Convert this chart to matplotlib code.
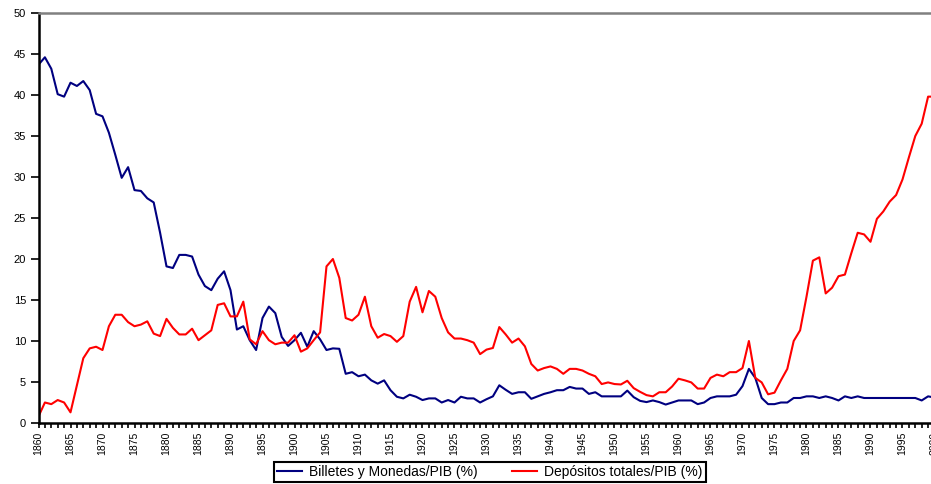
import matplotlib.pyplot as plt

plt.rcParams["font.family"] = ["Liberation Sans", "DejaVu Sans"]

# --- Data (% del PIB), 1860-2000 ---
years = list(range(1860, 2001))

billetes_monedas = [
    43.7, 44.6, 43.2, 40.1, 39.8, 41.5, 41.1, 41.7, 40.6, 37.7,   # 1860s
    37.4, 35.4, 32.7, 29.9, 31.2, 28.4, 28.3, 27.4, 26.9, 23.2,   # 1870s
    19.1, 18.9, 20.5, 20.5, 20.3, 18.1, 16.7, 16.2, 17.6, 18.5,   # 1880s
    16.2, 11.4, 11.8, 10.1, 8.9, 12.8, 14.2, 13.4, 10.5, 9.4,     # 1890s
    10.1, 11.0, 9.3, 11.2, 10.2, 8.9, 9.1, 9.05, 6.0, 6.2,        # 1900s
    5.7, 5.9, 5.2, 4.8, 5.2, 4.0, 3.2, 3.0, 3.45, 3.2,            # 1910s
    2.8, 3.0, 3.0, 2.5, 2.8, 2.5, 3.2, 3.0, 3.0, 2.5,             # 1920s
    2.9, 3.25, 4.6, 4.05, 3.55, 3.75, 3.75, 2.95, 3.25, 3.55,     # 1930s
    3.75, 4.0, 4.0, 4.4, 4.2, 4.2, 3.55, 3.75, 3.25, 3.25,        # 1940s
    3.25, 3.25, 3.95, 3.15, 2.7, 2.55, 2.75, 2.55, 2.25, 2.5,     # 1950s
    2.75, 2.75, 2.75, 2.3, 2.5, 3.05, 3.25, 3.25, 3.25, 3.45,     # 1960s
    4.5, 6.6, 5.5, 3.05, 2.3, 2.3, 2.5, 2.5, 3.05, 3.05,          # 1970s
    3.25, 3.25, 3.05, 3.25, 3.05, 2.75, 3.25, 3.05, 3.25, 3.05,   # 1980s
    3.05, 3.05, 3.05, 3.05, 3.05, 3.05, 3.05, 3.05, 2.75, 3.25,   # 1990s
    3.1,                                                          # 2000
]

depositos_totales = [
    0.8, 2.5, 2.3, 2.8, 2.5, 1.3, 4.6, 7.9, 9.1, 9.3,             # 1860s
    8.9, 11.8, 13.2, 13.2, 12.3, 11.8, 12.0, 12.4, 10.9, 10.6,    # 1870s
    12.7, 11.6, 10.8, 10.8, 11.5, 10.1, 10.7, 11.3, 14.4, 14.6,   # 1880s
    13.0, 13.0, 14.8, 10.2, 9.6, 11.2, 10.1, 9.6, 9.8, 9.8,       # 1890s
    10.7, 8.7, 9.1, 10.1, 11.05, 19.1, 20.0, 17.7, 12.8, 12.5,    # 1900s
    13.2, 15.4, 11.8, 10.4, 10.85, 10.6, 9.9, 10.6, 14.8, 16.6,   # 1910s
    13.5, 16.1, 15.4, 12.8, 11.05, 10.3, 10.3, 10.1, 9.8, 8.4,    # 1920s
    8.95, 9.15, 11.7, 10.8, 9.8, 10.3, 9.35, 7.2, 6.4, 6.7,       # 1930s
    6.9, 6.6, 6.0, 6.6, 6.6, 6.4, 6.0, 5.7, 4.75, 4.95,           # 1940s
    4.75, 4.7, 5.15, 4.25, 3.8, 3.4, 3.25, 3.75, 3.75, 4.45,      # 1950s
    5.4, 5.2, 4.95, 4.2, 4.2, 5.5, 5.9, 5.7, 6.2, 6.2,            # 1960s
    6.7, 10.0, 5.5, 4.95, 3.5, 3.7, 5.2, 6.6, 10.0, 11.3,         # 1970s
    15.4, 19.8, 20.2, 15.8, 16.5, 17.9, 18.1, 20.7, 23.2, 23.0,   # 1980s
    22.1, 24.9, 25.8, 27.0, 27.8, 29.7, 32.4, 35.0, 36.5, 39.8,   # 1990s
    39.8,                                                         # 2000
]

# --- Plot ---
fig = plt.figure(figsize=(9.31, 4.84), dpi=100)
# axes run a bit past the right edge, like the original (2000 is cut off)
ax = fig.add_axes([38.5 / 931, 61 / 484, 896 / 931, 410 / 484])

ax.plot(years, billetes_monedas, color="#000080", lw=1.5,
        label="Billetes y Monedas/PIB (%)")
ax.plot(years, depositos_totales, color="#FF0000", lw=1.5,
        label="Depósitos totales/PIB (%)")

ax.set_xlim(1860, 2000)
ax.set_ylim(0, 50)
ax.set_yticks(range(0, 51, 5))
ax.set_xticks(range(1860, 2001, 5))
ax.set_xticks(range(1860, 2001), minor=True)
ax.set_xticklabels([str(y) for y in range(1860, 2001, 5)], rotation=90, fontsize=7.5)
ax.tick_params(axis="y", labelsize=8, length=6, width=1.2, pad=3)
ax.tick_params(axis="x", which="both", length=3.5, width=1.2, pad=3)

for side in ["left", "bottom"]:
    ax.spines[side].set_linewidth(1.8)
    ax.spines[side].set_color("black")
ax.spines["top"].set_linewidth(1.8)
ax.spines["top"].set_color("#808080")
ax.spines["right"].set_visible(False)

leg = fig.legend(loc="center", bbox_to_anchor=(490 / 931, 12 / 484), ncol=2,
                 fontsize=10, frameon=True, fancybox=False, framealpha=1,
                 edgecolor="black", handlelength=1.8, handletextpad=0.5,
                 columnspacing=2.5, borderpad=0.2)
leg.get_frame().set_linewidth(1.5)

plt.savefig("out.png", dpi=100)
